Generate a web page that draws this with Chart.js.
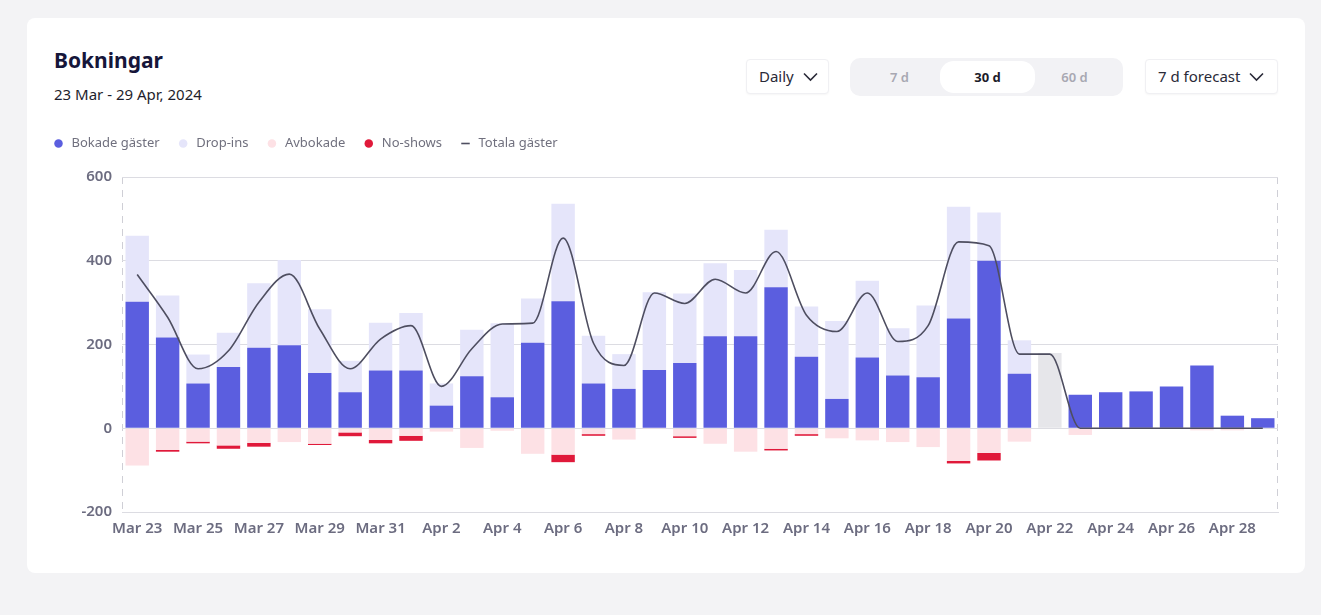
<!DOCTYPE html>
<html lang="sv">
<head>
<meta charset="utf-8">
<title>Bokningar</title>
<script src="https://cdn.jsdelivr.net/npm/chart.js@4.4.1/dist/chart.umd.min.js"></script>
<style>
  html, body { margin: 0; padding: 0; }
  body {
    width: 1321px; height: 615px; overflow: hidden;
    background: #f3f3f5;
    font-family: "Noto Sans", "Open Sans", sans-serif;
    position: relative;
  }
  .card {
    position: absolute; left: 27px; top: 18px; width: 1278px; height: 555px;
    background: #fff; border-radius: 8px;
  }
  .title {
    position: absolute; left: 54px; top: 47px;
    font-size: 21px; font-weight: 700; color: #16163a; line-height: 26px;
  }
  .range {
    position: absolute; left: 54px; top: 83px;
    font-size: 15px; color: #1e1e2c; line-height: 22px;
  }
  .drop {
    position: absolute; top: 59px; height: 35px; box-sizing: border-box;
    background: #fff; border: 1px solid #f0f0f3; border-radius: 4px;
    box-shadow: 0 1px 2px rgba(0,0,0,0.04);
    font-size: 15px; color: #2a2a38; line-height: 33px; padding-left: 12px;
  }
  .drop svg { position: absolute; top: 12px; }
  .seg {
    position: absolute; left: 850px; top: 58px; width: 273px; height: 38px;
    background: #f2f2f5; border-radius: 10px;
  }
  .seg span {
    position: absolute; top: 0; width: 95px; height: 38px; line-height: 38px;
    text-align: center; font-size: 13px; font-weight: 600; color: #a8a8b2;
  }
  .seg .on {
    top: 3px; height: 32px; line-height: 32px; background: #fff;
    border-radius: 14px; color: #1c1c2a; font-weight: 700;
  }
  #wrap { position: absolute; left: 35px; top: 120px; width: 1260px; height: 426px; }
</style>
</head>
<body>
<div class="card"></div>
<div class="title">Bokningar</div>
<div class="range">23 Mar - 29 Apr, 2024</div>

<div class="drop" style="left:746px;width:83px;">Daily
  <svg style="left:56px" width="15" height="10" viewBox="0 0 15 10"><path d="M1 1.5 L7.5 8 L14 1.5" fill="none" stroke="#2a2a38" stroke-width="1.6"/></svg>
</div>
<div class="seg">
  <span style="left:2px">7 d</span>
  <span class="on" style="left:90px">30 d</span>
  <span style="left:177px">60 d</span>
</div>
<div class="drop" style="left:1145px;width:133px;">7 d forecast
  <svg style="left:103px" width="15" height="10" viewBox="0 0 15 10"><path d="M1 1.5 L7.5 8 L14 1.5" fill="none" stroke="#2a2a38" stroke-width="1.6"/></svg>
</div>

<div id="wrap"><canvas id="bookingsChart"></canvas></div>

<script>
// Data (one entry per day, Mar 23 - Apr 29)
const days = [
  'Mar 23', 'Mar 24', 'Mar 25', 'Mar 26', 'Mar 27', 'Mar 28', 'Mar 29', 'Mar 30', 'Mar 31',
  'Apr 1', 'Apr 2', 'Apr 3', 'Apr 4', 'Apr 5', 'Apr 6', 'Apr 7', 'Apr 8', 'Apr 9', 'Apr 10',
  'Apr 11', 'Apr 12', 'Apr 13', 'Apr 14', 'Apr 15', 'Apr 16', 'Apr 17', 'Apr 18', 'Apr 19',
  'Apr 20', 'Apr 21', 'Apr 22', 'Apr 23', 'Apr 24', 'Apr 25', 'Apr 26', 'Apr 27', 'Apr 28', 'Apr 29'
];
const bokade = [302, 217, 107, 146, 192, 198, 132, 86, 138,
  138, 54, 124, 74, 204, 303, 107, 94, 139, 156,
  220, 220, 337, 171, 70, 169, 126, 122, 262,
  400, 130, 180, 80, 86, 88, 100, 150, 30, 24];
const dropIns = [158, 100, 69, 82, 154, 204, 152, 75, 114,
  137, 53, 111, 177, 106, 233, 114, 83, 186, 166,
  174, 158, 137, 120, 186, 183, 113, 171, 267,
  115, 80, 0, 0, 0, 0, 0, 0, 0, 0];
const avbokade = [-89, -52, -32, -41, -35, -33, -37, -10, -28,
  -18, -8, -47, -6, -61, -63, -14, -27, -2, -19,
  -37, -56, -49, -14, -24, -29, -33, -45, -78,
  -59, -32, 0, -16, 0, 0, 0, -5, -5, 0];
const noShows = [0, -4, -4, -8, -9, 0, -3, -9, -8,
  -12, 0, 0, 0, 0, -18, -4, 0, 0, -4,
  0, 0, -4, -4, 0, 0, 0, 0, -6,
  -18, 0, 0, 0, 0, 0, 0, 0, 0, 0];
const totala = [367, 265, 142, 185, 301, 368, 237, 142, 213,
  245, 100, 190, 249, 251, 454, 203, 150, 323, 298,
  356, 323, 422, 270, 231, 323, 207, 245, 445,
  436, 177, 177, 0, 0, 0, 0, 0, 0, 0];
const yTicks = [-200, 0, 200, 400, 600];

const todayIndex = days.indexOf('Apr 22');
const gridColor = '#dcdce2';
const tickFont = { family: '"Noto Sans", sans-serif', size: 15, weight: '600' };

// make room between the legend and the plot
const legendSpacer = {
  id: 'legendSpacer',
  beforeInit(chart) {
    const origFit = chart.legend.fit;
    chart.legend.fit = function () {
      origFit.bind(chart.legend)();
      this.height += 17;
    };
  }
};

const ctx = document.getElementById('bookingsChart').getContext('2d');
new Chart(ctx, {
  type: 'bar',
  data: {
    labels: days,
    datasets: [
      {
        label: 'Bokade gäster',
        data: bokade,
        backgroundColor: days.map((d, i) => i === todayIndex ? '#e6e6ea' : '#5b5edf'),
        pointStyle: 'circle'
      },
      {
        label: 'Drop-ins',
        data: dropIns,
        backgroundColor: '#e5e5fa',
        pointStyle: 'circle'
      },
      {
        label: 'Avbokade',
        data: avbokade,
        backgroundColor: '#fde1e5',
        pointStyle: 'circle'
      },
      {
        label: 'No-shows',
        data: noShows,
        backgroundColor: '#e0193a',
        pointStyle: 'circle'
      },
      {
        type: 'line',
        label: 'Totala gäster',
        data: totala,
        stack: 'total',
        borderColor: '#4e4e60',
        backgroundColor: '#4e4e60',
        borderWidth: 1.6,
        pointRadius: 0,
        pointStyle: 'line',
        cubicInterpolationMode: 'monotone',
        fill: false,
        order: -1
      }
    ]
  },
  options: {
    responsive: true,
    maintainAspectRatio: false,
    animation: false,
    layout: { padding: { right: 17 } },
    datasets: {
      bar: { categoryPercentage: 0.77, barPercentage: 1, borderWidth: 0 }
    },
    plugins: {
      tooltip: { enabled: false },
      legend: {
        position: 'top',
        align: 'start',
        labels: {
          usePointStyle: true,
          boxWidth: 13,
          boxHeight: 6,
          padding: 17,
          color: '#70707e',
          font: { family: '"Noto Sans", sans-serif', size: 13 },
          sort: (a, b) => a.datasetIndex - b.datasetIndex
        }
      }
    },
    scales: {
      x: {
        stacked: true,
        offset: true,
        grid: {
          offset: true,
          drawTicks: false,
          color: (c) => (c.type === 'scale' || c.index === 0) ? '#cfcfd6' : 'transparent'
        },
        border: { display: true, color: gridColor, dash: [7, 6] },
        ticks: {
          autoSkip: false,
          maxRotation: 0,
          padding: 8,
          color: '#6c6c80',
          font: tickFont,
          callback: (v, i) => i % 2 === 0 ? days[i] : ''
        }
      },
      y: {
        stacked: true,
        min: yTicks[0],
        max: yTicks[yTicks.length - 1],
        afterFit: (scale) => { scale.width = 87; },
        afterBuildTicks: (scale) => { scale.ticks = yTicks.map(v => ({ value: v })); },
        grid: { drawTicks: false, color: gridColor },
        border: { display: false },
        ticks: {
          padding: 10,
          color: '#6c6c80',
          font: tickFont
        }
      }
    }
  },
  plugins: [legendSpacer]
});
</script>
</body>
</html>
